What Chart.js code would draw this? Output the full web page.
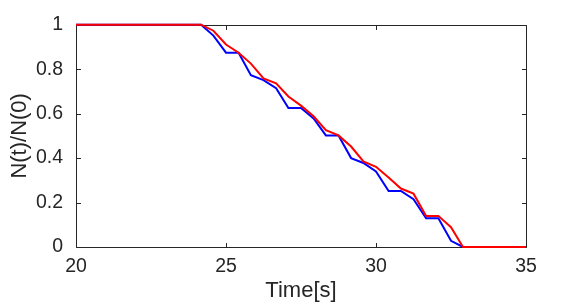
<!DOCTYPE html>
<html>
<head>
<meta charset="utf-8">
<script src="https://cdn.jsdelivr.net/npm/chart.js@4/dist/chart.umd.min.js"></script>
<style>
  html, body { margin: 0; padding: 0; background: #ffffff; }
  #wrap { width: 581px; height: 306px; }
</style>
</head>
<body>
<div id="wrap"><canvas id="c" width="581" height="306"></canvas></div>
<script>
const times = [20, 24.17, 24.58, 25.0, 25.42, 25.83, 26.25, 26.67, 27.08, 27.5, 27.92, 28.33, 28.75, 29.17, 29.58, 30.0, 30.42, 30.83, 31.25, 31.67, 32.08, 32.5, 32.9, 35];
const blueSeries = [1, 1, 0.951, 0.874, 0.874, 0.773, 0.751, 0.714, 0.625, 0.625, 0.578, 0.502, 0.502, 0.400, 0.378, 0.340, 0.252, 0.252, 0.215, 0.129, 0.129, 0.028, 0, 0];
const redSeries  = [1, 1, 0.973, 0.911, 0.874, 0.825, 0.758, 0.736, 0.677, 0.636, 0.588, 0.526, 0.502, 0.452, 0.385, 0.361, 0.313, 0.263, 0.240, 0.140, 0.140, 0.089, 0, 0];
const xTicks = [20, 25, 30, 35];
const yTicks = [0, 0.2, 0.4, 0.6, 0.8, 1];
const xLabel = 'Time[s]';
const yLabel = 'N(t)/N(0)';

const FONT = '"Liberation Sans", Arial, Helvetica, sans-serif';
const AXC = '#262626';

const frame = {
  id: 'frame',
  beforeDatasetsDraw(chart) {
    const { ctx, chartArea: a, scales: { x, y } } = chart;
    const L = Math.round(a.left) + 0.5, R = Math.round(a.right) + 0.5;
    const T = Math.round(a.top) + 0.5, B = Math.round(a.bottom) + 0.5;
    const tl = 4.5;
    ctx.save();
    ctx.strokeStyle = AXC;
    ctx.lineWidth = 1;
    ctx.beginPath();
    ctx.rect(L, T, R - L, B - T);
    xTicks.forEach(v => {
      const p = Math.round(x.getPixelForValue(v)) + 0.5;
      ctx.moveTo(p, B); ctx.lineTo(p, B - tl);
      ctx.moveTo(p, T); ctx.lineTo(p, T + tl);
    });
    yTicks.forEach(v => {
      const p = Math.round(y.getPixelForValue(v)) + 0.5;
      ctx.moveTo(L, p); ctx.lineTo(L + tl, p);
      ctx.moveTo(R, p); ctx.lineTo(R - tl, p);
    });
    ctx.stroke();
    ctx.restore();
  }
};

new Chart(document.getElementById('c'), {
  type: 'line',
  data: {
    datasets: [
      { label: 'red', data: times.map((t, i) => ({ x: t, y: redSeries[i] })), borderColor: '#ff0000', borderWidth: 2, pointRadius: 0, tension: 0, fill: false, order: 0, clip: false },
      { label: 'blue', data: times.map((t, i) => ({ x: t, y: blueSeries[i] })), borderColor: '#0000ff', borderWidth: 2, pointRadius: 0, tension: 0, fill: false, order: 1, clip: false }
    ]
  },
  options: {
    responsive: false,
    animation: false,
    devicePixelRatio: 1,
    layout: { padding: { left: 0, right: 55, top: 22, bottom: 0 } },
    plugins: { legend: { display: false }, tooltip: { enabled: false } },
    scales: {
      x: {
        type: 'linear', min: 20, max: 35,
        afterBuildTicks: s => { s.ticks = xTicks.map(v => ({ value: v })); },
        afterFit: s => { s.height = 59; },
        grid: { display: false, drawTicks: false },
        border: { display: false },
        ticks: { autoSkip: false, maxRotation: 0, padding: 8, color: AXC, font: { family: FONT, size: 19.5 }, callback: v => String(v) },
        title: { display: true, text: xLabel, color: AXC, font: { family: FONT, size: 22 }, padding: { top: 0, bottom: 2 } }
      },
      y: {
        type: 'linear', min: 0, max: 1,
        afterBuildTicks: s => { s.ticks = yTicks.map(v => ({ value: v })); },
        afterFit: s => { s.width = 76; },
        grid: { display: false, drawTicks: false },
        border: { display: false },
        ticks: { autoSkip: false, padding: 13, color: AXC, font: { family: FONT, size: 19.5 }, callback: v => String(Math.round(v * 10) / 10) },
        title: { display: true, text: yLabel, color: AXC, font: { family: FONT, size: 22 }, padding: { top: 7, bottom: 0 } }
      }
    }
  },
  plugins: [frame]
});
</script>
</body>
</html>
